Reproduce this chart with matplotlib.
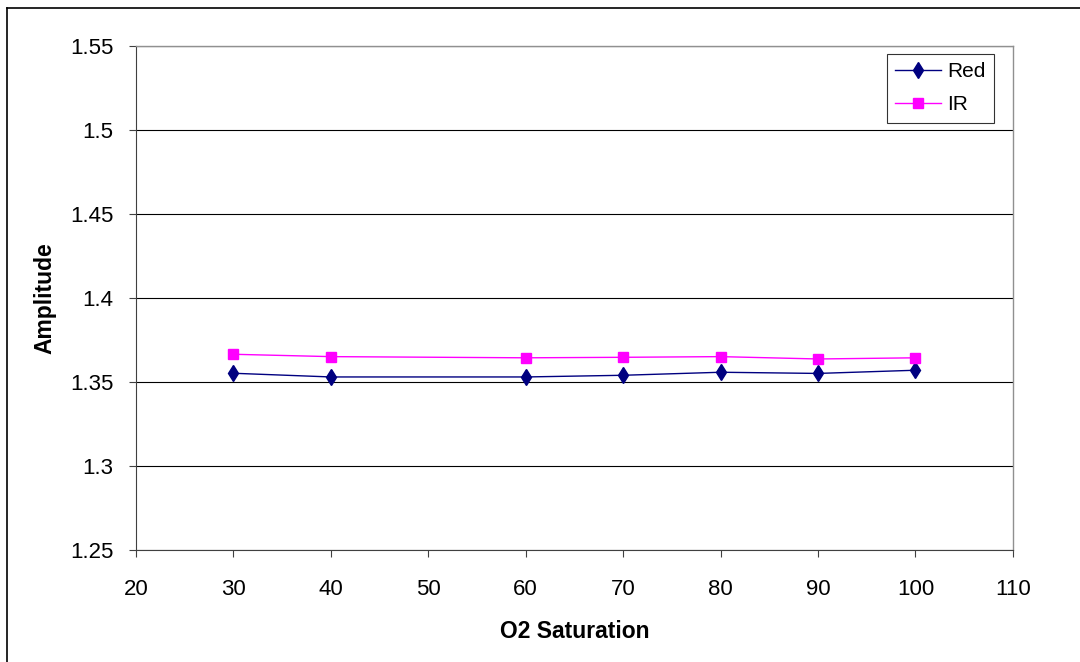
import matplotlib
matplotlib.use('Agg')
import matplotlib.pyplot as plt
from matplotlib.ticker import FuncFormatter
from matplotlib.lines import Line2D

plt.rcParams['font.family'] = ['Liberation Sans', 'DejaVu Sans']

saturation = [30, 40, 60, 70, 80, 90, 100]
red = [1.3552, 1.3530, 1.3530, 1.3540, 1.3558, 1.3551, 1.3570]
ir = [1.3665, 1.3651, 1.3644, 1.3647, 1.3651, 1.3637, 1.3644]

fig = plt.figure(figsize=(10.8, 6.62), dpi=100)
fig.patch.set_facecolor('white')
# outer frame (only top and left edges are inside the picture)
fig.lines.append(Line2D([0.0068, 1.0], [0.9885, 0.9885], transform=fig.transFigure,
                        color='black', linewidth=1.2))
fig.lines.append(Line2D([0.0068, 0.0068], [0.0, 0.9885], transform=fig.transFigure,
                        color='black', linewidth=1.2))

ax = fig.add_axes([0.1259, 0.1692, 0.812, 0.7613])
ax.plot(saturation, red, color='#000080', marker='d', markersize=8.5, linewidth=1, label='Red')
ax.plot(saturation, ir, color='#FF00FF', marker='s', markersize=7.5, linewidth=1, label='IR')

ax.set_xlim(20, 110)
ax.set_ylim(1.25, 1.55)
ax.set_xticks(range(20, 111, 10))
ax.set_yticks([1.25, 1.3, 1.35, 1.4, 1.45, 1.5, 1.55])
ax.yaxis.set_major_formatter(FuncFormatter(lambda v, p: f'{v:g}'))
ax.yaxis.grid(True, color='black', linewidth=0.8)
ax.set_axisbelow(True)
for s in ['top', 'right']:
    ax.spines[s].set_color('#909090')
    ax.spines[s].set_linewidth(1.0)
for s in ['left', 'bottom']:
    ax.spines[s].set_color('#404040')
ax.tick_params(axis='both', labelsize=16, direction='out', length=5, color='#404040')
ax.tick_params(axis='x', pad=16)
ax.tick_params(axis='y', pad=11)

ax.set_xlabel('O2 Saturation', fontsize=16.5, fontweight='bold', labelpad=14)
ax.set_ylabel('Amplitude', fontsize=16.5, fontweight='bold', labelpad=10)

leg = ax.legend(loc='upper right', bbox_to_anchor=(0.9785, 0.985), fontsize=15, frameon=True,
                fancybox=False, edgecolor='black', handlelength=2.2, borderpad=0.4,
                labelspacing=0.7, handletextpad=0.3, borderaxespad=0.0)
leg.get_frame().set_linewidth(0.8)

fig.savefig('out.png', dpi=100, facecolor='white')
